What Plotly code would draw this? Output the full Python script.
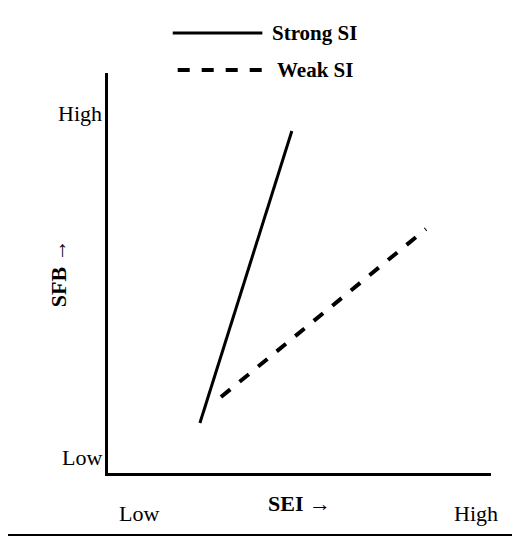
import plotly.graph_objects as go

# interaction lines (low SEI -> high SEI), arbitrary 0-10 scale
strong_x = [2.4, 4.8]
strong_y = [1.25, 8.55]
weak_x = [2.95, 8.3]
weak_y = [1.9, 6.1]

FONT = "Liberation Serif"

fig = go.Figure()
fig.add_trace(go.Scatter(x=strong_x, y=strong_y, mode="lines",
                         line=dict(color="black", width=3), showlegend=False))
fig.add_trace(go.Scatter(x=weak_x, y=weak_y, mode="lines",
                         line=dict(color="black", width=4, dash="dash"), showlegend=False))

ann = []
def txt(x, y, s, size=22, bold=False, xanchor="center", angle=0):
    ann.append(dict(x=x, y=y, xref="paper", yref="paper", text=f"<b>{s}</b>" if bold else s,
                    showarrow=False, xanchor=xanchor, yanchor="middle", textangle=angle,
                    font=dict(family=FONT, size=size, color="black")))

txt(-0.01, 0.9, "High", xanchor="right")
txt(-0.01, 0.04, "Low", xanchor="right")
txt(0.08, -0.1, "Low")
txt(0.96, -0.1, "High")
txt(0.5, -0.075, "SEI →", bold=True)
txt(-0.13, 0.5, "SFB →", bold=True, angle=-90)
txt(0.423, 1.1, "Strong SI", size=21, bold=True, xanchor="left")
txt(0.436, 1.0075, "Weak SI", size=21, bold=True, xanchor="left")

shapes = [
    dict(type="line", xref="paper", yref="paper", x0=0.169, x1=0.403, y0=1.1, y1=1.1,
         line=dict(color="black", width=3)),
    dict(type="line", xref="paper", yref="paper", x0=0.182, x1=0.416, y0=1.0075, y1=1.0075,
         line=dict(color="black", width=4, dash="dash")),
    dict(type="rect", xref="paper", yref="paper", x0=-0.265, x1=1.065, y0=-0.155, y1=1.18,
         line=dict(color="black", width=2)),
]

fig.update_layout(
    width=520, height=542,
    margin=dict(l=100, r=37, t=65, b=77),
    plot_bgcolor="white", paper_bgcolor="white",
    xaxis=dict(range=[0, 10], showline=True, linecolor="black", linewidth=3,
               showticklabels=False, showgrid=False, zeroline=False, ticks=""),
    yaxis=dict(range=[0, 10], showline=True, linecolor="black", linewidth=3,
               showticklabels=False, showgrid=False, zeroline=False, ticks=""),
    annotations=ann, shapes=shapes,
)
fig.write_html("out.html")
